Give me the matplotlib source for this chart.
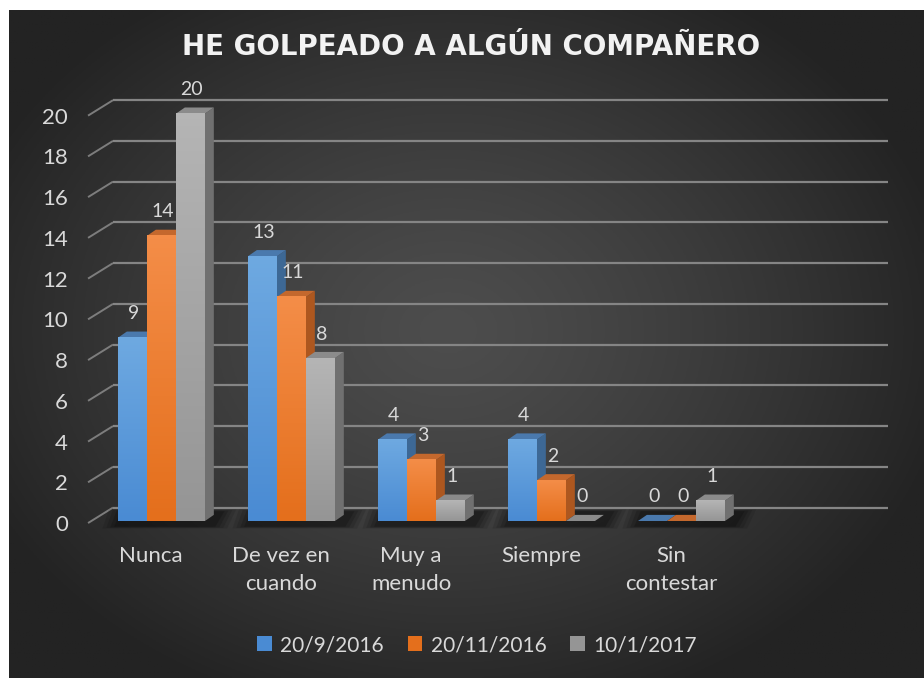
import numpy as np
import matplotlib.pyplot as plt
from matplotlib.patches import Polygon, Patch
from matplotlib.colors import LinearSegmentedColormap, to_rgb

plt.rcParams['font.family'] = ['Lato', 'DejaVu Sans']

title = "HE GOLPEADO A ALGÚN COMPAÑERO"
categories = ["Nunca", "De vez en\ncuando", "Muy a\nmenudo", "Siempre", "Sin\ncontestar"]
series_names = ["20/9/2016", "20/11/2016", "10/1/2017"]
sep_2016 = [9, 13, 4, 4, 0]
nov_2016 = [14, 11, 3, 2, 0]
jan_2017 = [20, 8, 1, 0, 1]
yticks = list(range(0, 21, 2))

series = [sep_2016, nov_2016, jan_2017]
# front top, front bottom, top face, side face
styles = [
    ("#6ea9e1", "#4a8bd3", "#4a79ad", "#3d6895"),
    ("#f48d48", "#e46f1c", "#c4682d", "#ad571f"),
    ("#b5b5b5", "#959595", "#8b8b8b", "#707070"),
]

W, H = 924, 678
fig = plt.figure(figsize=(W / 100, H / 100), dpi=100, facecolor="white")

# dark radial background
bg = fig.add_axes([9 / W, 0, (W - 9) / W, (H - 10) / H])
yy, xx = np.mgrid[0:1:300j, 0:1:300j]
r = np.sqrt(((xx - 0.48) / 0.75) ** 2 + ((yy - 0.48) / 0.8) ** 2)
t = np.clip(r / 0.75, 0, 1) ** 1.3
c0, c1 = np.array(to_rgb("#4d4d4d")), np.array(to_rgb("#232323"))
img = c0[None, None, :] * (1 - t[..., None]) + c1[None, None, :] * t[..., None]
bg.imshow(img, aspect="auto", extent=(0, 1, 0, 1))
bg.axis("off")

ax = fig.add_axes([0, 0, 1, 1])
ax.patch.set_alpha(0)
ax.axis("off")

px_cat = 130.0      # pixels per category
px_val = 20.37      # pixels per unit
x0_px, y0_px = 161.5, 521.0
bw = 0.223          # bar width
ddx, ddy = 0.068, 0.30          # bar depth
wall_dy = 0.66                  # back wall offset
n = len(categories)
x = np.arange(n)

# walls gridlines
left_front = -0.565
back_left = -0.373
back_right = (888 - x0_px) / px_cat
for v in yticks:
    ax.plot([left_front, back_left], [v - 0.1, v + wall_dy], color="#7d7d7d", lw=1.4, zorder=1,
            solid_capstyle="butt")
    ax.plot([back_left, back_right], [v + wall_dy, v + wall_dy], color="#858585", lw=1.6, zorder=1,
            solid_capstyle="butt")
    ax.text((68 - x0_px) / px_cat, v - 0.2, str(v), ha="right", va="center",
            fontsize=16, color="#d9d9d9")

# soft shadows under groups
for i in x:
    left = i - 1.5 * bw
    right = i + 1.5 * bw
    for k, a in enumerate([0.10, 0.12, 0.15, 0.18]):
        g = 0.12 - 0.03 * k
        ax.add_patch(Polygon([(left - g, -0.25 - g), (right + g + 0.05, -0.25 - g),
                              (right + g + 0.12, 0.45 + g), (left - g + 0.05, 0.45 + g)],
                             closed=True, facecolor="black", edgecolor="none", alpha=a, zorder=2))

handles = []
for j, vals in enumerate(series):
    ftop, fbot, ctop, cside = styles[j]
    z = 3 + j
    lefts = x - 1.5 * bw + j * bw
    bars = ax.bar(lefts, vals, width=bw, align="edge", color=fbot, edgecolor="none", zorder=z)
    cmap = LinearSegmentedColormap.from_list("g%d" % j, [ftop, fbot])
    for b, v in zip(bars, vals):
        l, rgt = b.get_x(), b.get_x() + b.get_width()
        # side face
        ax.add_patch(Polygon([(rgt, 0), (rgt + ddx, ddy), (rgt + ddx, v + ddy), (rgt, v)],
                             closed=True, facecolor=cside, edgecolor="none", zorder=z))
        # top face
        ax.add_patch(Polygon([(l, v), (rgt, v), (rgt + ddx, v + ddy), (l + ddx, v + ddy)],
                             closed=True, facecolor=ctop, edgecolor="none", zorder=z))
        if v > 0:
            ax.imshow(np.linspace(0, 1, 64)[:, None], cmap=cmap, aspect="auto",
                      extent=(l, rgt, 0, v), zorder=z)
        ax.text((l + rgt) / 2 + 0.01, v + 1.18, str(v), ha="center", va="center",
                fontsize=14, color="#d9d9d9", zorder=10)
    handles.append(Patch(facecolor=styles[j][1], edgecolor="none"))

for i, lab in enumerate(categories):
    ax.text(i - 0.08, -1.25, lab, ha="center", va="top", fontsize=16,
            color="#d9d9d9", linespacing=1.5)

ax.set_xlim((0 - x0_px) / px_cat, (W - x0_px) / px_cat)
ax.set_ylim((y0_px - H) / px_val, y0_px / px_val)

fig.text(471 / W, 1 - 47 / H, title, ha="center", va="center", fontsize=20,
         fontweight="bold", color="#f2f2f2", family=["DejaVu Sans"])

fig.legend(handles, series_names, loc="center", bbox_to_anchor=(477 / W, 1 - 645 / H),
           ncol=3, frameon=False, fontsize=15, labelcolor="#d9d9d9",
           handlelength=0.7, handleheight=0.7, handletextpad=0.4, columnspacing=1.15)

fig.savefig("out.png", dpi=100, facecolor="white")
